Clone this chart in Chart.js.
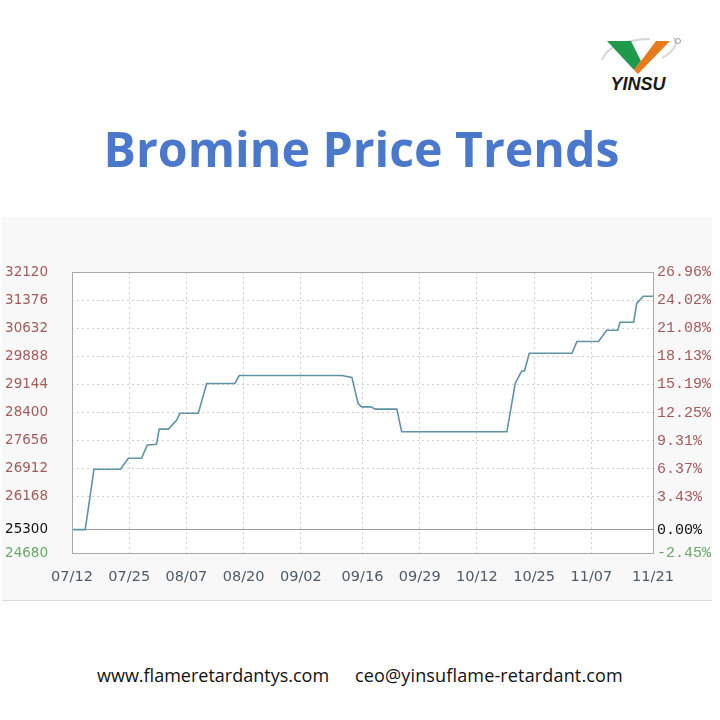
<!DOCTYPE html>
<html>
<head>
<meta charset="utf-8">
<script src="https://cdn.jsdelivr.net/npm/chart.js@4"></script>
<style>
  html, body { margin:0; padding:0; background:#fff; width:720px; height:720px; overflow:hidden; }
  #title { position:absolute; left:0; width:723px; top:113px; text-align:center; font-family:"Open Sans", sans-serif; font-weight:700; font-size:48.2px; color:#4a78cc; line-height:70px; }
  #panel { position:absolute; left:2px; top:217px; width:710px; height:383px; background:#f8f8f8; border-bottom:1px solid #dcdcdc; }
  #wrap { position:absolute; left:0; top:240px; width:720px; height:360px; }
  .foot { position:absolute; top:663px; font-family:"Open Sans", sans-serif; font-size:18px; color:#111; line-height:24px; white-space:nowrap; }
  #logo { position:absolute; left:596px; top:28px; }
</style>
</head>
<body>
<div id="title">Bromine Price Trends</div>
<svg id="logo" width="100" height="70" viewBox="596 28 100 70">
  <path d="M602 60 Q 610 40 650 39" stroke="#d6d6d6" stroke-width="2" fill="none"/>
  <path d="M662 58 Q 680 48 674 38" stroke="#d6d6d6" stroke-width="2" fill="none"/>
  <polygon points="607,41 631,41 641,61 634,70" fill="#1f9a4a"/>
  <polygon points="634,70 641,61 656,41 670,41 638,74" fill="#ea7a1e"/>
  <circle cx="678" cy="41" r="2.5" fill="none" stroke="#888" stroke-width="0.8"/>
  <text x="638" y="90" text-anchor="middle" font-family="Liberation Sans, Arial, sans-serif" font-weight="700" font-style="italic" font-size="18" fill="#1a1a1a">YINSU</text>
</svg>
<div id="panel"></div>
<div id="wrap"><canvas id="c" width="720" height="360"></canvas></div>
<div class="foot" style="left:97px;">www.flameretardantys.com</div>
<div class="foot" style="left:355px; letter-spacing:0.15px;">ceo@yinsuflame-retardant.com</div>
<script>
// ---- data ----
const xTickDays   = [0, 13, 26, 39, 52, 66, 79, 92, 105, 118, 132];
const xTickLabels = ['07/12','07/25','08/07','08/20','09/02','09/16','09/29','10/12','10/25','11/07','11/21'];
const leftTicks   = [24680, 25300, 26168, 26912, 27656, 28400, 29144, 29888, 30632, 31376, 32120];
const rightTickLabels = ['-2.45%','0.00%','3.43%','6.37%','9.31%','12.25%','15.19%','18.13%','21.08%','24.02%','26.96%'];
const basePrice = 25300;
const days   = [0, 3, 5, 11, 12.8, 15.8, 17.1, 19.2, 19.8, 21.9, 23.8, 24.5, 28.7, 30.6, 37, 38, 61.3, 63.6, 65, 65.8, 67.9, 68.9, 73.8, 74.9, 98.8, 100.7, 101.7, 102.2, 102.8, 103.9, 113.6, 114.7, 119.6, 121.5, 124, 124.5, 127.6, 128.3, 129.8, 132];
const prices = [25300, 25300, 26900, 26900, 27190, 27190, 27540, 27560, 27960, 27960, 28200, 28380, 28380, 29170, 29170, 29380, 29380, 29330, 28640, 28550, 28550, 28490, 28490, 27890, 27890, 29170, 29400, 29500, 29500, 29970, 29970, 30280, 30280, 30580, 30580, 30790, 30790, 31290, 31480, 31480];

const frame = {
  id: 'frame',
  beforeDraw(chart) {
    const {ctx, chartArea:a} = chart;
    ctx.save();
    ctx.fillStyle = '#ffffff';
    ctx.fillRect(a.left, a.top, a.right - a.left, a.bottom - a.top);
    ctx.restore();
  },
  afterDatasetsDraw(chart) {
    const {ctx, chartArea:a} = chart;
    ctx.save();
    ctx.strokeStyle = '#a8a8a8';
    ctx.lineWidth = 1;
    ctx.strokeRect(Math.round(a.left) + 0.5, Math.round(a.top) + 0.5, Math.round(a.right - a.left), Math.round(a.bottom - a.top));
    ctx.restore();
  }
};

const tickColor = (v) => v === basePrice ? '#111111' : (v < basePrice ? '#6aa86a' : '#a35a5a');

new Chart(document.getElementById('c'), {
  type: 'line',
  data: {
    datasets: [{
      data: days.map((d, i) => ({x: d, y: prices[i]})),
      borderColor: '#5f93a6',
      borderWidth: 1.6,
      pointRadius: 0,
      tension: 0,
      fill: false
    }]
  },
  options: {
    responsive: false,
    animation: false,
    layout: { padding: { left: 0, right: 0, top: 2, bottom: 0 } },
    plugins: { legend: { display: false }, tooltip: { enabled: false } },
    scales: {
      x: {
        type: 'linear', min: 0, max: 132,
        afterBuildTicks: (axis) => { axis.ticks = xTickDays.map(v => ({value: v})); },
        afterFit: (s) => { s.height = 47; },
        ticks: {
          callback: (v) => xTickLabels[xTickDays.indexOf(v)],
          color: '#4d5a68', padding: 16, maxRotation: 0, autoSkip: false,
          font: { family: 'DejaVu Sans', size: 14.5 }
        },
        grid: { color: '#cfcfcf', drawTicks: false },
        border: { display: false, dash: [2, 3] }
      },
      y: {
        position: 'left', min: 24680, max: 32120,
        afterBuildTicks: (axis) => { axis.ticks = leftTicks.map(v => ({value: v})); },
        afterFit: (s) => { s.width = 72; },
        ticks: {
          callback: (v) => String(v),
          color: (c) => tickColor(c.tick.value),
          padding: 24,
          font: { family: 'DejaVu Sans', size: 13.5 }
        },
        grid: {
          color: (c) => (c.tick && c.tick.value === basePrice) ? '#9a9a9a' : '#cfcfcf',
          drawTicks: false
        },
        border: { display: false, dash: (c) => (c.tick && c.tick.value === basePrice) ? [] : [2, 3] }
      },
      y2: {
        position: 'right', min: 24680, max: 32120,
        afterBuildTicks: (axis) => { axis.ticks = leftTicks.map(v => ({value: v})); },
        afterFit: (s) => { s.width = 67; },
        ticks: {
          callback: (v, i) => rightTickLabels[i],
          color: (c) => tickColor(c.tick.value),
          padding: 4,
          font: { family: 'Liberation Mono', size: 15 }
        },
        grid: { drawOnChartArea: false, drawTicks: false },
        border: { display: false }
      }
    }
  },
  plugins: [frame]
});
</script>
</body>
</html>
